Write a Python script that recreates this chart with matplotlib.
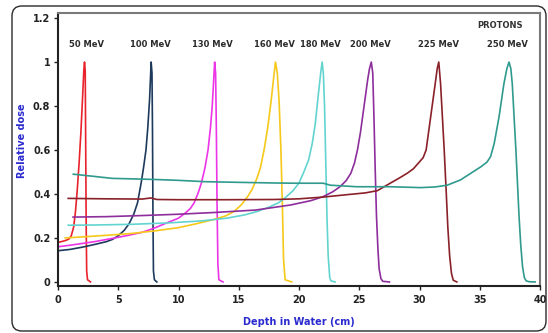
import matplotlib
matplotlib.use("Agg")
import matplotlib.pyplot as plt
from matplotlib.patches import FancyBboxPatch

# ---- data (depth in cm, relative dose) ----
x50 = [0, 0.4, 0.7, 0.9, 1.1, 1.3, 1.45, 1.6, 1.75, 1.9, 2.05, 2.14, 2.2, 2.26, 2.3, 2.34, 2.38, 2.45, 2.7]
y50 = [0.18, 0.185, 0.19, 0.195, 0.21, 0.25, 0.32, 0.42, 0.54, 0.68, 0.85, 0.96, 1.0, 0.96, 0.6, 0.25, 0.05, 0.01, 0.0]

x100 = [0, 1, 2, 3, 4, 4.5, 5, 5.5, 5.9, 6.3, 6.6, 6.9, 7.1, 7.3, 7.45, 7.6, 7.73, 7.8, 7.84, 7.88, 7.92, 8.0, 8.2]
y100 = [0.142, 0.148, 0.158, 0.17, 0.183, 0.193, 0.21, 0.235, 0.265, 0.31, 0.36, 0.45, 0.52, 0.6, 0.7, 0.83, 1.0, 0.95, 0.7, 0.3, 0.05, 0.01, 0.0]

x130 = [0, 1, 2, 3, 4, 5, 6, 7, 8, 9, 10, 10.6, 11.0, 11.3, 11.6, 11.9, 12.2, 12.45, 12.65, 12.8, 12.92, 13.0, 13.08, 13.14, 13.2, 13.27, 13.35, 13.7]
y130 = [0.16, 0.167, 0.175, 0.183, 0.193, 0.203, 0.214, 0.226, 0.245, 0.268, 0.29, 0.315, 0.335, 0.36, 0.4, 0.45, 0.52, 0.6, 0.7, 0.8, 0.92, 1.0, 0.95, 0.7, 0.35, 0.08, 0.01, 0.0]

x160 = [0.6, 2, 4, 6, 8, 10, 11.5, 12.8, 13.9, 14.6, 15.2, 15.7, 16.1, 16.5, 16.8, 17.1, 17.4, 17.7, 17.9, 18.05, 18.2, 18.35, 18.5, 18.62, 18.72, 18.85, 19.4]
y160 = [0.2, 0.205, 0.212, 0.22, 0.232, 0.247, 0.265, 0.282, 0.3, 0.32, 0.35, 0.385, 0.42, 0.47, 0.52, 0.6, 0.7, 0.83, 0.93, 1.0, 0.95, 0.82, 0.6, 0.35, 0.1, 0.01, 0.0]

x180 = [0.85, 3, 6, 9, 12, 14, 15.5, 16.5, 17.5, 18.3, 18.9, 19.5, 20.0, 20.4, 20.8, 21.1, 21.35, 21.6, 21.8, 21.92, 22.02, 22.12, 22.22, 22.32, 22.42, 22.55, 22.65, 23.0]
y180 = [0.258, 0.259, 0.262, 0.268, 0.278, 0.29, 0.305, 0.32, 0.34, 0.36, 0.385, 0.415, 0.45, 0.5, 0.555, 0.63, 0.72, 0.85, 0.95, 1.0, 0.95, 0.8, 0.55, 0.3, 0.12, 0.02, 0.005, 0.0]

x200 = [1.25, 4, 7, 10, 13, 16.4, 19.3, 21, 22, 22.8, 23.4, 23.9, 24.3, 24.6, 24.85, 25.1, 25.3, 25.5, 25.7, 25.85, 26.0, 26.12, 26.22, 26.32, 26.43, 26.55, 26.65, 26.8, 26.95, 27.5]
y200 = [0.295, 0.297, 0.302, 0.308, 0.316, 0.327, 0.35, 0.37, 0.388, 0.41, 0.433, 0.46, 0.494, 0.54, 0.6, 0.68, 0.76, 0.84, 0.92, 0.97, 1.0, 0.95, 0.75, 0.52, 0.3, 0.15, 0.06, 0.015, 0.003, 0.0]

x225 = [0.85, 4, 7, 7.7, 8.2, 10, 14, 18, 20, 22, 24, 25.5, 26.5, 27.6, 28.4, 29.0, 29.5, 29.9, 30.3, 30.55, 30.8, 31.05, 31.3, 31.47, 31.6, 31.75, 31.9, 32.05, 32.2, 32.35, 32.5, 32.65, 32.8, 33.1]
y225 = [0.38, 0.378, 0.377, 0.382, 0.375, 0.374, 0.374, 0.375, 0.378, 0.386, 0.397, 0.405, 0.415, 0.45, 0.475, 0.495, 0.515, 0.54, 0.565, 0.6, 0.7, 0.8, 0.9, 0.97, 1.0, 0.9, 0.75, 0.6, 0.43, 0.25, 0.12, 0.04, 0.008, 0.0]

x250 = [1.27, 3, 4.5, 6, 8, 10, 12.2, 15, 18, 19.7, 22, 22.6, 24.8, 27.6, 30.1, 31.3, 32.3, 33.4, 34.25, 35.1, 35.6, 35.9, 36.2, 36.6, 37.0, 37.25, 37.43, 37.58, 37.7, 37.85, 38.0, 38.13, 38.26, 38.4, 38.55, 38.7, 38.85, 39.1, 39.6]
y250 = [0.49, 0.48, 0.471, 0.469, 0.466, 0.462, 0.456, 0.453, 0.45, 0.449, 0.449, 0.44, 0.433, 0.433, 0.429, 0.432, 0.44, 0.464, 0.494, 0.524, 0.545, 0.57, 0.63, 0.75, 0.9, 0.97, 1.0, 0.97, 0.9, 0.75, 0.6, 0.45, 0.3, 0.17, 0.07, 0.02, 0.005, 0.001, 0.0]

energy_labels = ["50 MeV", "100 MeV", "130 MeV", "160 MeV", "180 MeV", "200 MeV", "225 MeV", "250 MeV"]
label_x = [2.4, 7.65, 12.8, 18.0, 21.8, 25.9, 31.6, 37.3]
colors = ["#e8232b", "#1d3a5c", "#ec35e6", "#f6c81a", "#62d4cf", "#8d2e9c", "#8a2129", "#2f9a8d"]

xticks = [0, 5, 10, 15, 20, 25, 30, 35, 40]
yticks = [0, 0.2, 0.4, 0.6, 0.8, 1.0, 1.2]
ytick_labels = ["0", "0.2", "0.4", "0.6", "0.8", "1", "1.2"]

series = [(x50, y50), (x100, y100), (x130, y130), (x160, y160),
          (x180, y180), (x200, y200), (x225, y225), (x250, y250)]

W, H = 548, 333
fig = plt.figure(figsize=(W / 100, H / 100), dpi=100)
fig.patch.set_facecolor("white")

# rounded outer border
border = FancyBboxPatch((12 / W, 2 / H), (546 - 12) / W, (327 - 2) / H,
                        boxstyle="round,pad=0,rounding_size=0.018",
                        mutation_aspect=W / H,
                        transform=fig.transFigure, fill=False,
                        ec="#2a2a2a", lw=1.0)
fig.patches.append(border)

ax = fig.add_axes([58 / W, 47.3 / H, 482 / W, 272.7 / H])

for (xs, ys), c in zip(series, colors):
    ax.plot(xs, ys, color=c, lw=1.2, solid_joinstyle="round")

ax.set_xlim(0, 40)
ax.set_ylim(-0.017, 1.223)
ax.set_xticks(xticks)
ax.set_xticklabels([str(t) for t in xticks])
ax.set_yticks(yticks)
ax.set_yticklabels(ytick_labels)

for lab in ax.get_xticklabels() + ax.get_yticklabels():
    lab.set_fontweight("bold")
    lab.set_fontsize(7)
    lab.set_color("#222222")

ax.tick_params(axis="both", direction="out", length=3, width=1.0, color="#222222")
ax.tick_params(axis="y", pad=2.5)
ax.tick_params(axis="x", pad=4)
for s in ["left", "bottom"]:
    ax.spines[s].set_color("#222222")
    ax.spines[s].set_linewidth(1.5)
for s in ["top", "right"]:
    ax.spines[s].set_color("#7a7a7a")
    ax.spines[s].set_linewidth(1.5)

for t, lx in zip(energy_labels, label_x):
    ax.text(lx, 1.08, t, ha="center", va="center", fontsize=6, fontweight="bold", color="#2b2b2b")
ax.text(36.7, 1.168, "PROTONS", ha="center", va="center", fontsize=6, fontweight="bold", color="#333333")

fig.text(22 / W, 1 - 141 / H, "Relative dose", rotation=90, ha="center", va="center",
         fontsize=7, fontweight="bold", color="#2a2ad0")
fig.text(299 / W, 1 - 322 / H, "Depth in Water (cm)", ha="center", va="center",
         fontsize=7, fontweight="bold", color="#2a2ad0")

fig.savefig("out.png", dpi=100)
